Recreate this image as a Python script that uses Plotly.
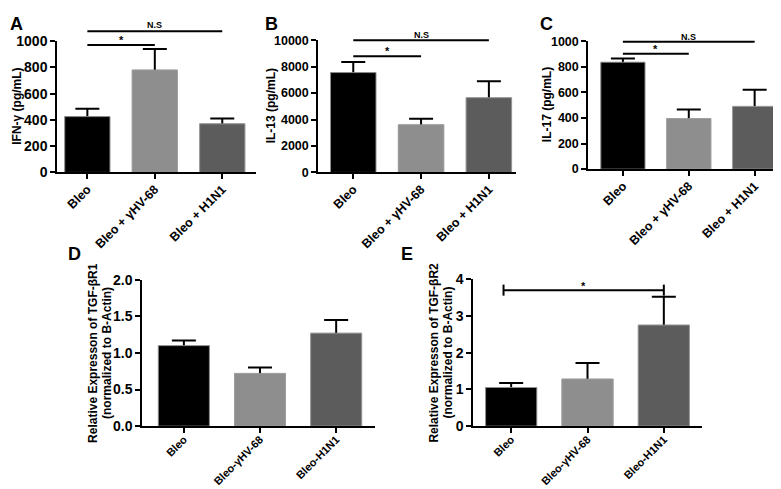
import plotly.graph_objects as go

W, H = 781, 489

# ---------------- data ----------------
cats_top = ["Bleo", "Bleo + γHV-68", "Bleo + H1N1"]
cats_bot = ["Bleo", "Bleo-γHV-68", "Bleo-H1N1"]
colors = ["#000000", "#8e8e8e", "#5c5c5c"]

ifng_mean = [425, 780, 370]
ifng_err = [60, 160, 40]
il13_mean = [7550, 3600, 5650]
il13_err = [800, 450, 1250]
il17_mean = [835, 395, 490]
il17_err = [30, 70, 130]
r1_mean = [1.10, 0.72, 1.27]
r1_err = [0.07, 0.08, 0.18]
r2_mean = [1.05, 1.28, 2.75]
r2_err = [0.12, 0.44, 0.77]

panels = [
    dict(key="A", cats=cats_top, m=ifng_mean, e=ifng_err, title=["IFN-γ (pg/mL)"],
         yr=[0, 1000], dt=200, dom=(49, 248, 161.7, 26), xr=[-0.45, 2.5], tfs=14, xfs=12.5,
         tpx=[9], tts=12, so=-2),
    dict(key="B", cats=cats_top, m=il13_mean, e=il13_err, title=["IL-13 (pg/mL)"],
         yr=[0, 10000], dt=2000, dom=(310, 508, 161.7, 25), xr=[-0.52, 2.4], tfs=12.5, xfs=12.5,
         tpx=[263], tts=12, so=-2),
    dict(key="C", cats=cats_top, m=il17_mean, e=il17_err, title=["IL-17 (pg/mL)"],
         yr=[0, 1000], dt=200, dom=(580, 773, 158.3, 26), xr=[-0.53, 2.4], tfs=12.5, xfs=12.5,
         tpx=[539], tts=12, so=-2),
    dict(key="D", cats=cats_bot, m=r1_mean, e=r1_err,
         title=["Relative Expresson of TGF-βR1", "(normalized to B-Actin)"],
         yr=[0, 2.0], dt=0.5, dom=(134, 367, 424, 272.7), xr=[-0.55, 2.51], tfs=14, xfs=11,
         tpx=[85, 99], tts=12, fmt=".1f", so=-4),
    dict(key="E", cats=cats_bot, m=r2_mean, e=r2_err,
         title=["Relative Expresson of TGF-βR2", "(normalized to B-Actin)"],
         yr=[0, 4], dt=1, dom=(465, 694, 424, 272), xr=[-0.5, 2.5], tfs=14, xfs=11,
         tpx=[426, 440], tts=12, so=-4),
]

letters = [("A", 8, 8), ("B", 263, 8), ("C", 538, 8), ("D", 66, 246), ("E", 399, 246)]

# significance brackets: panel, x0, x1, y, label, label y
sigs = [
    ("A", 0, 1, 970, "*", 1010), ("A", 0, 2, 1076, "N.S", 1120),
    ("B", 0, 1, 8780, "*", 9150), ("B", 0, 2, 10000, "N.S", 10370),
    ("C", 0, 1, 902, "*", 940), ("C", 0, 2, 995, "N.S", 1030),
    ("E", -0.1, 2, 3.70, "*", 3.80),
]

fig = go.Figure()
shapes, annos = [], []
layout = {}
FONT = "Liberation Sans, Arial, sans-serif"

for i, p in enumerate(panels):
    n = "" if i == 0 else str(i + 1)
    xa, ya = "x" + n, "y" + n
    xs = [0, 1, 2]
    fig.add_trace(go.Bar(x=xs, y=p["m"], xaxis=xa, yaxis=ya, width=0.67,
                         marker=dict(color=colors, line=dict(width=0.8, color="#a0a0a0")),
                         error_y=dict(type="data", symmetric=False, array=p["e"],
                                      arrayminus=[v * 0.1 for v in p["m"]],
                                      color="black", thickness=2, width=12),
                         hoverinfo="skip"))
    fig.add_trace(go.Bar(x=xs, y=p["m"], xaxis=xa, yaxis=ya, width=0.67,
                         marker=dict(color=colors, line=dict(width=0.8, color="#a0a0a0")),
                         hoverinfo="skip"))
    x0, x1, yb, yt = p["dom"]
    layout["xaxis" + n] = dict(domain=[x0 / W, x1 / W], range=p["xr"], anchor=ya,
                               tickmode="array", tickvals=xs, ticktext=p["cats"],
                               tickangle=-45, showline=True, linecolor="black", linewidth=1.5,
                               ticks="outside", ticklen=5, tickwidth=1.5, tickcolor="black",
                               showgrid=False, zeroline=False, fixedrange=True,
                               ticklabelstandoff=p["so"],
                               tickfont=dict(family=FONT, size=p["xfs"], color="black",
                                             weight="bold"))
    layout["yaxis" + n] = dict(domain=[1 - yb / H, 1 - yt / H], range=p["yr"], anchor=xa,
                               dtick=p["dt"], tick0=0, showline=True, linecolor="black",
                               linewidth=1.5, ticks="outside", ticklen=5, tickwidth=1.5,
                               tickcolor="black", showgrid=False, zeroline=False,
                               tickformat=p.get("fmt", "d"),
                               tickfont=dict(family=FONT, size=p["tfs"], color="black",
                                             weight="bold"))
    cy = 1 - (yb + yt) / 2 / H
    for t, px in zip(p["title"], p["tpx"]):
        annos.append(dict(text=t, x=px / W, y=cy, xref="paper", yref="paper",
                          textangle=-90, showarrow=False, xanchor="center", yanchor="middle",
                          font=dict(family=FONT, size=p["tts"], color="black", weight="bold")))

for t, px, py in letters:
    annos.append(dict(text=t, x=px / W, y=1 - py / H, xref="paper", yref="paper",
                      showarrow=False, xanchor="center", yanchor="middle",
                      font=dict(family=FONT, size=18, color="black", weight="bold")))

keys = [p["key"] for p in panels]
for key, sx0, sx1, sy, lab, ly in sigs:
    i = keys.index(key)
    p = panels[i]
    n = "" if i == 0 else str(i + 1)
    xr, yr = p["xr"], p["yr"]
    fx = lambda v: (v - xr[0]) / (xr[1] - xr[0])
    fy = lambda v: (v - yr[0]) / (yr[1] - yr[0])
    shapes.append(dict(type="line", xref="x" + n + " domain", yref="y" + n + " domain",
                       x0=fx(sx0), x1=fx(sx1), y0=fy(sy), y1=fy(sy),
                       line=dict(color="black", width=2)))
    if key == "E":
        cap = 0.15 * (yr[1] - yr[0]) / 4
        for cx in (sx0, sx1):
            shapes.append(dict(type="line", xref="x" + n + " domain", yref="y" + n + " domain",
                               x0=fx(cx), x1=fx(cx), y0=fy(sy - cap), y1=fy(sy + cap),
                               line=dict(color="black", width=2)))
    annos.append(dict(text=lab, x=fx((sx0 + sx1) / 2), y=fy(ly),
                      xref="x" + n + " domain", yref="y" + n + " domain",
                      showarrow=False, xanchor="center", yanchor="middle",
                      font=dict(family=FONT, size=11 if lab == "*" else 9, color="black",
                                weight="bold")))

fig.update_layout(width=W, height=H, margin=dict(l=0, r=0, t=0, b=0),
                  plot_bgcolor="white", paper_bgcolor="white", showlegend=False,
                  barmode="overlay", shapes=shapes, annotations=annos, **layout)

fig.write_html("out.html")
